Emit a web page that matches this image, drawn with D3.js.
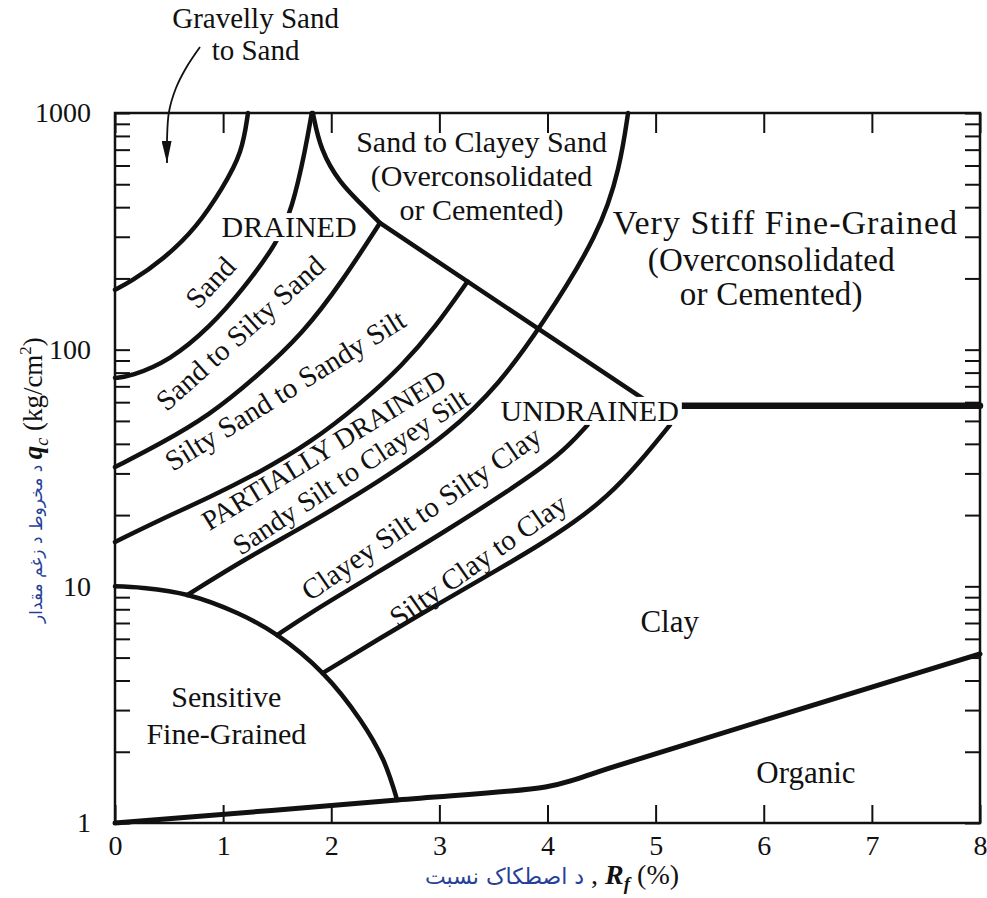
<!DOCTYPE html>
<html>
<head>
<meta charset="utf-8">
<script src="https://cdn.jsdelivr.net/npm/d3@7"></script>
<style>
  body { margin: 0; background: #fff; }
  text { font-family: "Liberation Serif", "Times New Roman", serif; fill: #111; }
  .fa { font-family: "DejaVu Sans", sans-serif; fill: #26409a; }
  .zone { stroke: #111; fill: none; stroke-linecap: round; stroke-linejoin: round; }
  .tick line { stroke: #111; stroke-width: 2; }
</style>
</head>
<body>
<script>
const width = 987;
const height = 898;

const xTicks = [0, 1, 2, 3, 4, 5, 6, 7, 8];
const yTicks = [1, 10, 100, 1000];

// zone boundaries, [Rf %, qc kg/cm2]
const gravellyBound = [[1.23, 1000], [1.175, 677], [1.0, 486], [0.76, 330], [0.44, 239], [0.14, 193], [0, 179]];
const sandBound = [[1.82, 1000], [1.76, 697], [1.64, 396], [1.50, 282], [1.18, 179], [0.88, 125], [0.51, 90], [0.14, 77], [0, 76]];
const cuspArc = [[1.83, 1000], [1.90, 697], [2.08, 506], [2.27, 416], [2.45, 343]];
const drainedLine = [[2.45, 343], [4.98, 58]];
const undrainedLine = [[4.98, 58], [8, 58]];
const siltySandBound = [[2.45, 343], [2.11, 197], [1.74, 117], [1.295, 75.9], [0.879, 53.0], [0.416, 39.9], [0, 31.9]];
const sandySiltBound = [[3.26, 194], [2.96, 124], [2.66, 86], [2.28, 59.5], [1.803, 40.3], [1.341, 30.4], [0.879, 23.8], [0.416, 19.1], [0, 15.4]];
const clayeySandArc = [[4.745, 1000], [4.671, 591], [4.486, 311], [3.931, 123.5], [3.561, 72.3], [3.098, 44.4], [2.423, 27.3], [1.803, 18.5], [1.184, 12.9], [0.67, 9.19]];
const clayeySiltBound = [[4.37, 48], [4.12, 35.9], [3.65, 25.5], [3.03, 16.8], [2.42, 11.4], [1.80, 7.71], [1.50, 6.22]];
const siltyClayBound = [[5.133, 48.1], [4.855, 33.5], [4.55, 23.8], [4.236, 18.5], [3.931, 15.0], [3.561, 11.9], [3.034, 8.67], [2.423, 5.93], [1.92, 4.30]];
const sensitiveBound = [[0, 10], [0.26, 9.84], [0.67, 9.19], [1.13, 7.71], [1.50, 6.22], [1.92, 4.30], [2.27, 2.72], [2.48, 1.85], [2.61, 1.25]];
const organicBound = [[0, 1], [2.61, 1.25], [3.98, 1.42], [4.26, 1.53], [4.58, 1.71], [8, 5.18]];
const arrowPath = [[0.786, 1900], [0.657, 1550], [0.564, 1275], [0.499, 1010], [0.481, 769], [0.481, 615]];

const zoneLabels = [
  { lines: ['Gravelly Sand', 'to Sand'], at: [1.30, 2290], step: 32, size: 29, spacing: 0 },
  { lines: ['Sand to Clayey Sand', '(Overconsolidated', 'or Cemented)'], at: [3.39, 684], step: 34, size: 30, spacing: 0 },
  { lines: ['Very Stiff Fine-Grained'], at: [6.20, 308], step: 0, size: 34, spacing: 1 },
  { lines: ['(Overconsolidated', 'or Cemented)'], at: [6.07, 216], step: 34, size: 33, spacing: 0.2 },
  { lines: ['Clay'], at: [5.13, 6.41], step: 0, size: 31, spacing: 0 },
  { lines: ['Sensitive', 'Fine-Grained'], at: [1.03, 3.09], step: 37, size: 30, spacing: 0 },
  { lines: ['Organic'], at: [6.39, 1.476], step: 0, size: 31, spacing: 0 }
];
const boxedLabels = [
  { text: 'DRAINED', at: [1.61, 299], size: 30 },
  { text: 'UNDRAINED', at: [4.39, 50], size: 30 }
];
const slantLabels = [
  { text: 'Sand', at: [0.88, 193], angle: -47, size: 29 },
  { text: 'Sand to Silty Sand', at: [1.156, 118], angle: -42, size: 29 },
  { text: 'Silty Sand to Sandy Silt', at: [1.572, 67.5], angle: -32, size: 29 },
  { text: 'PARTIALLY DRAINED', at: [1.93, 37.8], angle: -31.5, size: 28 },
  { text: 'Sandy Silt to Clayey Silt', at: [2.18, 30.6], angle: -33.5, size: 28 },
  { text: 'Clayey Silt to Silty Clay', at: [2.83, 20.4], angle: -34.5, size: 29 },
  { text: 'Silty Clay to Clay', at: [3.357, 12.9], angle: -35, size: 29 }
];

const xTitleFa = 'د اصطکاک نسبت';
const yTitleFa = 'د مخروط د زغم مقدار';

function init() {
  const svg = d3.select('body')
    .append('svg')
    .attr('width', width)
    .attr('height', height);

  const x = d3.scaleLinear().domain([0, 8]).range([115, 980]);
  const y = d3.scaleLog().domain([1, 1000]).range([823, 113]);

  const smooth = d3.line()
    .x(d => x(d[0]))
    .y(d => y(d[1]))
    .curve(d3.curveBasis);

  const through = d3.line()
    .x(d => x(d[0]))
    .y(d => y(d[1]))
    .curve(d3.curveCatmullRom.alpha(0.5));

  const straight = d3.line()
    .x(d => x(d[0]))
    .y(d => y(d[1]));

  // axes: ticks inside the frame
  svg.append('g')
    .attr('transform', `translate(0,${y(1)})`)
    .call(d3.axisBottom(x).tickValues(xTicks).tickSize(-18).tickPadding(12).tickFormat(d3.format('d')))
    .call(styleAxis, 28);

  svg.append('g')
    .attr('transform', `translate(0,${y(1000)})`)
    .call(d3.axisTop(x).tickValues(xTicks).tickSize(-20).tickFormat(''))
    .call(styleAxis, 28);

  svg.append('g')
    .attr('transform', `translate(${x(0)},0)`)
    .call(d3.axisLeft(y).tickValues(y.ticks()).tickSize(-15).tickPadding(24)
      .tickFormat(d => yTicks.includes(d) ? String(d) : ''))
    .call(styleAxis, 28);

  svg.append('g')
    .attr('transform', `translate(${x(8)},0)`)
    .call(d3.axisRight(y).tickValues(y.ticks()).tickSize(-15).tickFormat(''))
    .call(styleAxis, 28);

  svg.append('rect')
    .attr('x', x(0))
    .attr('y', y(1000))
    .attr('width', x(8) - x(0))
    .attr('height', y(1) - y(1000))
    .attr('fill', 'none')
    .attr('stroke', '#111')
    .attr('stroke-width', 2.5);

  // zone boundaries
  const arcs = [gravellyBound, sandBound, cuspArc, siltySandBound, sandySiltBound,
    clayeySandArc, clayeySiltBound, siltyClayBound];
  svg.selectAll('path.arc')
    .data(arcs)
    .join('path')
    .attr('class', 'zone arc')
    .attr('d', smooth)
    .attr('stroke-width', 4.5);

  svg.append('path')
    .attr('class', 'zone')
    .attr('d', through(sensitiveBound))
    .attr('stroke-width', 4.5);

  svg.append('path')
    .attr('class', 'zone')
    .attr('d', through(organicBound))
    .attr('stroke-width', 5);

  svg.append('path')
    .attr('class', 'zone')
    .attr('d', straight(drainedLine))
    .attr('stroke-width', 4.5);

  svg.append('path')
    .attr('class', 'zone')
    .attr('d', straight(undrainedLine))
    .attr('stroke-width', 6.5)
    .attr('stroke-linecap', 'butt');

  // arrow for gravelly sand
  svg.append('defs').append('marker')
    .attr('id', 'head')
    .attr('viewBox', '0 -5 22 10')
    .attr('refX', 22)
    .attr('refY', 0)
    .attr('markerUnits', 'userSpaceOnUse')
    .attr('markerWidth', 22)
    .attr('markerHeight', 10)
    .attr('orient', 'auto')
    .append('path')
    .attr('d', 'M0,-5L22,0L0,5Z')
    .attr('fill', '#111');

  svg.append('path')
    .attr('d', through(arrowPath))
    .attr('fill', 'none')
    .attr('stroke', '#111')
    .attr('stroke-width', 1.8)
    .attr('marker-end', 'url(#head)');

  // labels
  zoneLabels.forEach(l => {
    const t = svg.append('text')
      .attr('text-anchor', 'middle')
      .attr('font-size', l.size)
      .attr('letter-spacing', l.spacing);
    l.lines.forEach((s, i) => {
      t.append('tspan')
        .attr('x', x(l.at[0]))
        .attr('y', y(l.at[1]) + i * l.step)
        .text(s);
    });
  });

  boxedLabels.forEach(l => {
    const t = svg.append('text')
      .attr('text-anchor', 'middle')
      .attr('font-size', l.size)
      .attr('x', x(l.at[0]))
      .attr('y', y(l.at[1]))
      .text(l.text);
    const b = t.node().getBBox();
    svg.insert('rect', () => t.node())
      .attr('x', b.x - 3)
      .attr('y', b.y + 3)
      .attr('width', b.width + 6)
      .attr('height', b.height - 5)
      .attr('fill', '#fff');
  });

  svg.selectAll('text.slant')
    .data(slantLabels)
    .join('text')
    .attr('class', 'slant')
    .attr('text-anchor', 'middle')
    .attr('dy', '0.35em')
    .attr('font-size', d => d.size)
    .attr('transform', d => `translate(${x(d.at[0])},${y(d.at[1])}) rotate(${d.angle})`)
    .text(d => d.text);

  // axis titles
  const xt = svg.append('text')
    .attr('x', 552)
    .attr('y', 884)
    .attr('text-anchor', 'middle');
  xt.append('tspan').attr('class', 'fa').attr('font-size', 22).text(xTitleFa);
  xt.append('tspan').attr('font-size', 28).text(' , ');
  xt.append('tspan').attr('font-size', 28).attr('font-style', 'italic').attr('font-weight', 'bold').text('R');
  xt.append('tspan').attr('font-size', 19).attr('font-style', 'italic').attr('font-weight', 'bold').attr('dy', 6).text('f');
  xt.append('tspan').attr('font-size', 28).attr('dy', -6).text(' (%)');

  const yt = svg.append('text')
    .attr('transform', 'translate(42,480) rotate(-90)')
    .attr('text-anchor', 'middle');
  yt.append('tspan').attr('class', 'fa').attr('font-size', 17).text(yTitleFa + ' ');
  yt.append('tspan').attr('font-size', 27).attr('font-style', 'italic').attr('font-weight', 'bold').text('q');
  yt.append('tspan').attr('font-size', 18).attr('font-style', 'italic').attr('dy', 6).text('c');
  yt.append('tspan').attr('font-size', 27).attr('dy', -6).text(' (kg/cm');
  yt.append('tspan').attr('font-size', 17).attr('dy', -11).text('2');
  yt.append('tspan').attr('font-size', 27).attr('dy', 11).text(')');

  function styleAxis(g, size) {
    g.select('.domain').remove();
    g.selectAll('.tick text')
      .attr('font-size', size)
      .attr('font-family', '"Liberation Serif", serif')
      .attr('fill', '#111');
  }
}

init();
</script>
</body>
</html>
